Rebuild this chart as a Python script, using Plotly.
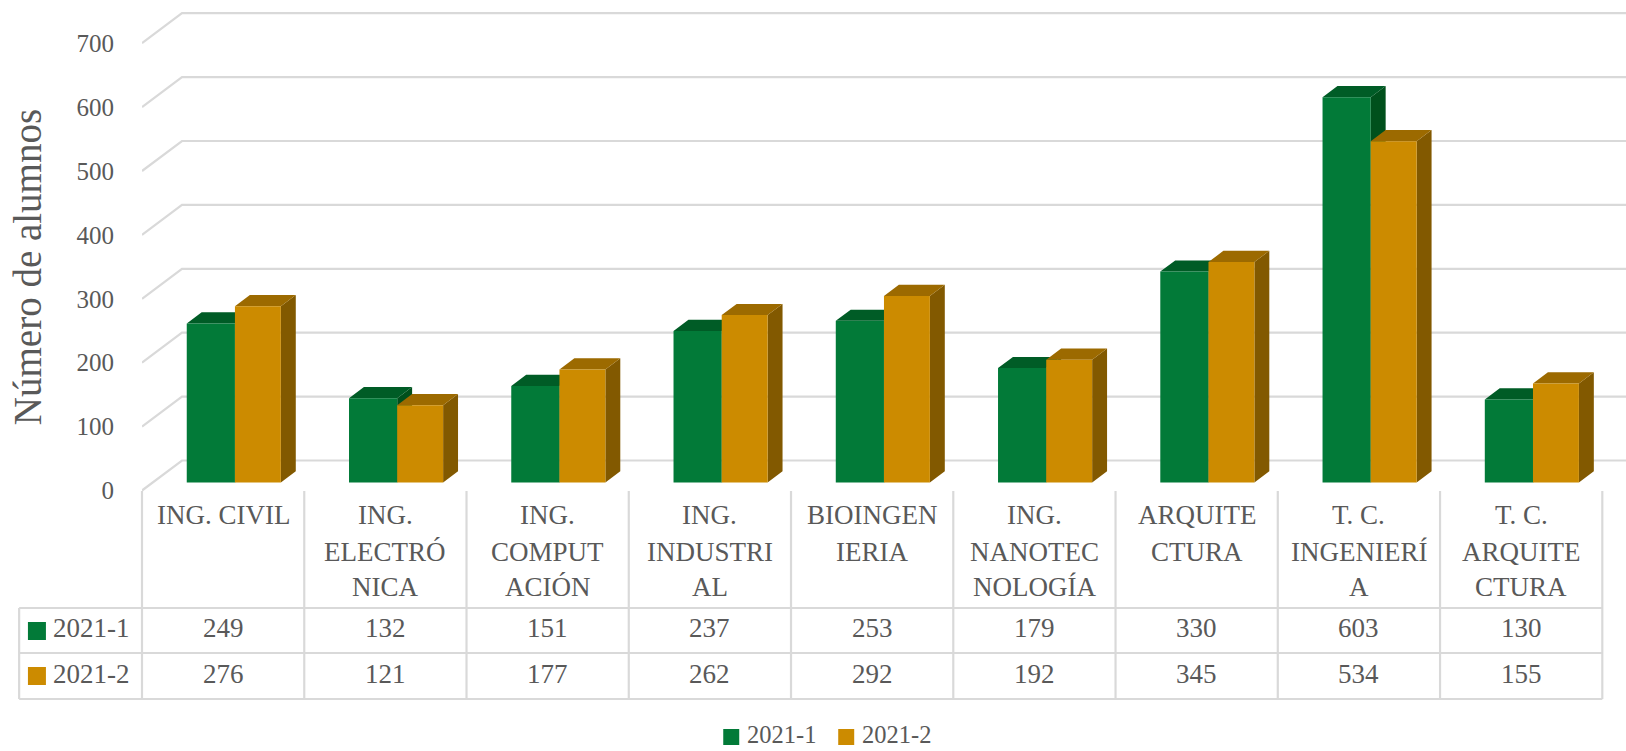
import plotly.graph_objects as go

categories = ["ING. CIVIL", "ING. ELECTRÓNICA", "ING. COMPUTACIÓN", "ING. INDUSTRIAL", "BIOINGENIERIA",
              "ING. NANOTECNOLOGÍA", "ARQUITECTURA", "T. C. INGENIERÍA", "T. C. ARQUITECTURA"]
category_lines = [["ING. CIVIL"], ["ING.", "ELECTRÓ", "NICA"], ["ING.", "COMPUT", "ACIÓN"], ["ING.", "INDUSTRI", "AL"],
                  ["BIOINGEN", "IERIA"], ["ING.", "NANOTEC", "NOLOGÍA"], ["ARQUITE", "CTURA"],
                  ["T. C.", "INGENIERÍ", "A"], ["T. C.", "ARQUITE", "CTURA"]]
series_names = ["2021-1", "2021-2"]
values_2021_1 = [249, 132, 151, 237, 253, 179, 330, 603, 130]
values_2021_2 = [276, 121, 177, 262, 292, 192, 345, 534, 155]
tick_values = [0, 100, 200, 300, 400, 500, 600, 700]

W, H = 1626, 751
FONT = "Liberation Serif"
TXT = "#595959"
GRID = "#D9D9D9"
FRONT = ["#027A38", "#CC8B00"]
SIDE = ["#00501C", "#825900"]
TOP = ["#005C26", "#9C6A00"]

# pixel geometry of the frame
L, CW = 141.6, 162.3
PY0, PPU = 490.5, 0.639           # pixel of value 0, pixels per value unit
DOM_B = 534.0
WALL_DX, WALL_DY = 40 / CW, 30 / PPU   # full depth in data units
D_FRONT, D_BACK = 0.267, 0.64     # bar front/back planes in depth fractions
BAR_W = [0.297, 0.283]
BAR_OFF = [-0.290, 0.007]

def px_x(px):
    return (px - L) / (W - L)

def px_y(py):
    return (H - py) / H

fig = go.Figure()

# wall grid
gx, gy = [], []
x_end = (W - L) / CW - 0.5 + 0.01
for t in tick_values:
    gx += [-0.5, -0.5 + WALL_DX, x_end, None]
    gy += [t, t + WALL_DY, t + WALL_DY, None]
fig.add_trace(go.Scatter(x=gx, y=gy, mode="lines", line=dict(color=GRID, width=2.2),
                         hoverinfo="skip", showlegend=False))

# depth faces
def faces(values, k):
    sx, sy, tx, ty = [], [], [], []
    b = D_FRONT * WALL_DY
    ddx = (D_BACK - D_FRONT) * WALL_DX
    ddy = (D_BACK - D_FRONT) * WALL_DY
    for i, v in enumerate(values):
        x0 = i + D_FRONT * WALL_DX + BAR_OFF[k]
        x1 = x0 + BAR_W[k]
        sx += [x1, x1 + ddx, x1 + ddx, x1, x1, None]
        sy += [b, b + ddy, b + v + ddy, b + v, b, None]
        tx += [x0, x0 + ddx, x1 + ddx, x1, x0, None]
        ty += [b + v, b + v + ddy, b + v + ddy, b + v, b + v, None]
    for xs, ys, col in ((sx, sy, SIDE[k]), (tx, ty, TOP[k])):
        fig.add_trace(go.Scatter(x=xs, y=ys, mode="lines", fill="toself", fillcolor=col,
                                 line=dict(width=0, color=col), hoverinfo="skip", showlegend=False))

series = [values_2021_1, values_2021_2]
for k in range(2):
    faces(series[k], k)

# front faces on the overlay axes
for k in range(2):
    fig.add_trace(go.Bar(
        x=[i + D_FRONT * WALL_DX for i in range(len(categories))],
        y=series[k], base=D_FRONT * WALL_DY, width=BAR_W[k], offset=BAR_OFF[k],
        name=series_names[k], marker=dict(color=FRONT[k], line=dict(width=0)), showlegend=False,
        customdata=categories, hovertemplate="%{customdata}: %{y}<extra>" + series_names[k] + "</extra>",
        xaxis="x2", yaxis="y2"))

# data table lines
shapes = []
def line(x0, y0, x1, y1, w=2.2):
    shapes.append(dict(type="line", xref="paper", yref="paper", x0=px_x(x0), x1=px_x(x1),
                       y0=px_y(y0), y1=px_y(y1), line=dict(color=GRID, width=w)))

def swatch(x, cy, size, color):
    shapes.append(dict(type="rect", xref="paper", yref="paper", x0=px_x(x), x1=px_x(x + size),
                       y0=px_y(cy - size / 2), y1=px_y(cy + size / 2), fillcolor=color, line=dict(width=0)))

T_TOP, R1, R2, R3, T_LEFT = 491, 608, 653, 699, 18.7
T_RIGHT = L + CW * len(categories)
for i in range(len(categories) + 1):
    line(L + CW * i, T_TOP, L + CW * i, R3)
line(T_LEFT, R1, T_LEFT, R3)
for r in (R1, R2, R3):
    line(T_LEFT, r, T_RIGHT, r)
for k, cy in enumerate((631, 676)):
    swatch(27.5, cy, 18, FRONT[k])

# table text
ann = []
def text(s, x, y, size=27, anchor="center"):
    ann.append(dict(text=s, xref="paper", yref="paper", x=px_x(x), y=px_y(y), xanchor=anchor, yanchor="middle",
                    showarrow=False, font=dict(family=FONT, size=size, color=TXT)))

LINE_Y = [515, 552, 587]
for i, lines in enumerate(category_lines):
    for j, s in enumerate(lines):
        text(s, L + CW * (i + 0.5), LINE_Y[j])
    text(str(values_2021_1[i]), L + CW * (i + 0.5), 628)
    text(str(values_2021_2[i]), L + CW * (i + 0.5), 674)
text(series_names[0], 51, 628, anchor="left")
text(series_names[1], 51, 674, anchor="left")

# legend under the table
for k, (sx, tx) in enumerate(((723, 745), (838, 860))):
    swatch(sx, 737, 16, FRONT[k])
    text(series_names[k], tx, 734.5, size=24.5, anchor="left")

xr = [-0.5, (W - L) / CW - 0.5]
yr = [(PY0 - DOM_B) / PPU, PY0 / PPU]
dom = [(H - DOM_B) / H, 1]
fig.update_layout(
    width=W, height=H, margin=dict(l=L, r=0, t=0, b=0, autoexpand=False), paper_bgcolor="white",
    plot_bgcolor="rgba(0,0,0,0)",
    barmode="overlay", shapes=shapes, annotations=ann, showlegend=False,
    font=dict(family=FONT, color=TXT),
    xaxis=dict(range=xr, visible=False, fixedrange=True),
    yaxis=dict(range=yr, domain=dom, tickvals=tick_values, ticks="outside", ticklen=22,
               tickcolor="rgba(0,0,0,0)", tickfont=dict(family=FONT, size=25, color=TXT),
               showgrid=False, zeroline=False, showline=False, fixedrange=True,
               title=dict(text="Número de alumnos", font=dict(family=FONT, size=39, color=TXT), standoff=22)),
    xaxis2=dict(range=xr, visible=False, overlaying="x", fixedrange=True),
    yaxis2=dict(range=yr, domain=dom, visible=False, overlaying="y", fixedrange=True),
)
fig.write_html("out.html", config={"displayModeBar": False},
               post_script="document.body.style.margin='0';document.body.style.overflow='hidden';")
